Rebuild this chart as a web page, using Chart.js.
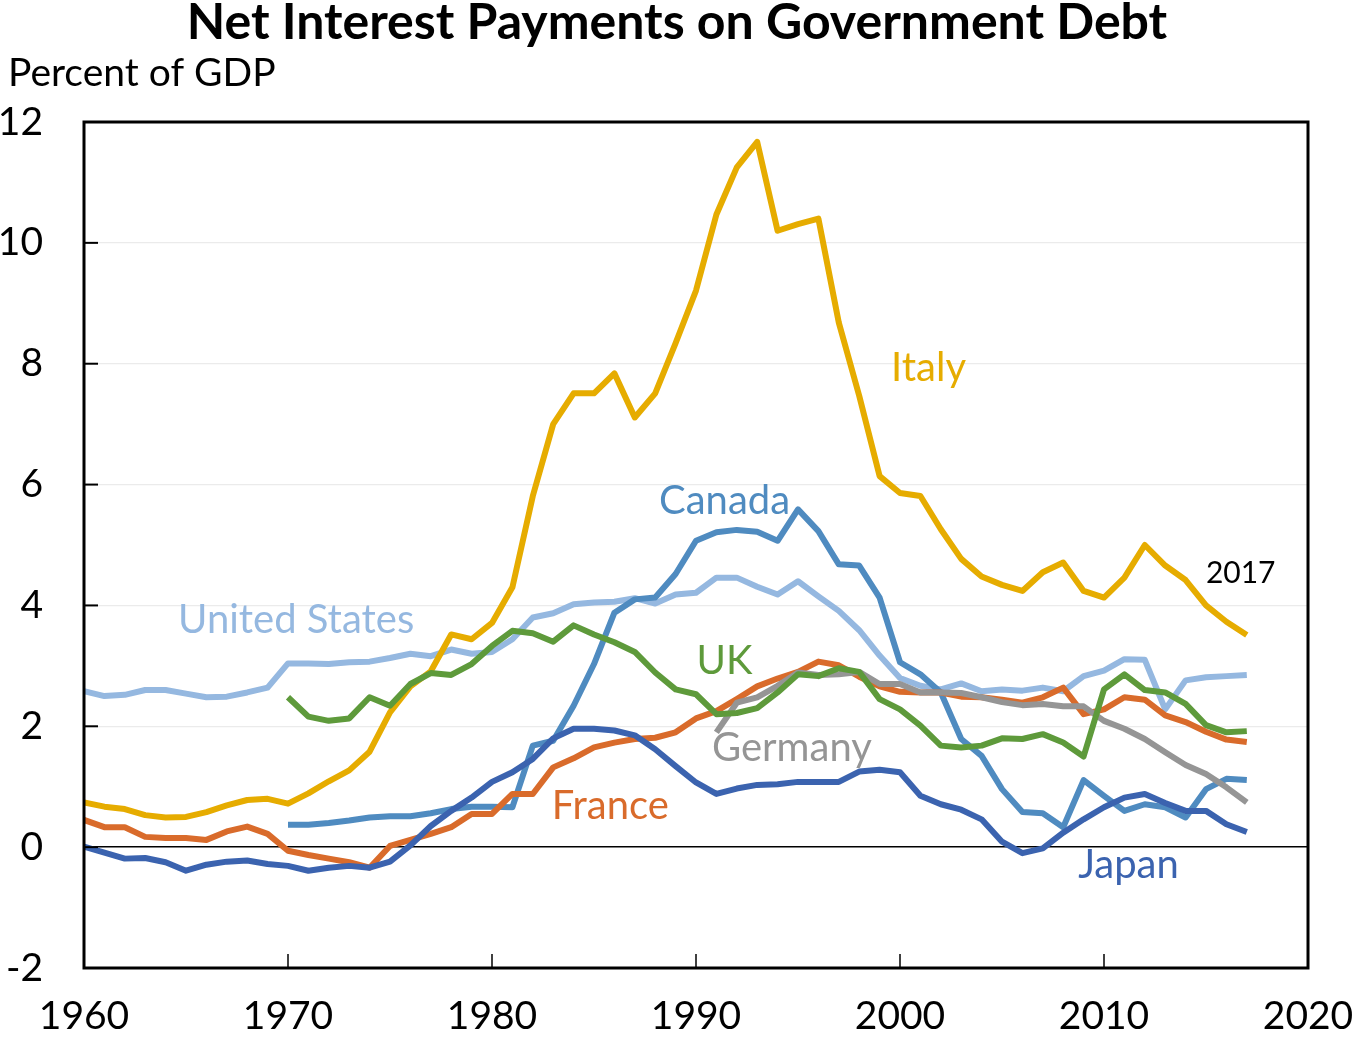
<!DOCTYPE html>
<html>
<head>
<meta charset="utf-8">
<title>Net Interest Payments on Government Debt</title>
<script src="https://cdn.jsdelivr.net/npm/chart.js@4.4.0/dist/chart.umd.min.js"></script>
<style>
  html, body { margin: 0; padding: 0; background: #fff; }
  #wrap { width: 1353px; height: 1037px; position: relative; }
</style>
</head>
<body>
<div id="wrap"><canvas id="debtChart"></canvas></div>
<script>
// Net interest payments, percent of GDP, 1960-2017
const years = [
  1960, 1961, 1962, 1963, 1964, 1965, 1966, 1967, 1968, 1969,
  1970, 1971, 1972, 1973, 1974, 1975, 1976, 1977, 1978, 1979,
  1980, 1981, 1982, 1983, 1984, 1985, 1986, 1987, 1988, 1989,
  1990, 1991, 1992, 1993, 1994, 1995, 1996, 1997, 1998, 1999,
  2000, 2001, 2002, 2003, 2004, 2005, 2006, 2007, 2008, 2009,
  2010, 2011, 2012, 2013, 2014, 2015, 2016, 2017
];

const italy = [
  0.74, 0.67, 0.63, 0.53, 0.49, 0.50, 0.58, 0.69, 0.78, 0.80,
  0.72, 0.89, 1.09, 1.27, 1.58, 2.23, 2.66, 2.91, 3.52, 3.44,
  3.71, 4.30, 5.81, 7.00, 7.51, 7.51, 7.84, 7.11, 7.51, 8.34,
  9.21, 10.47, 11.25, 11.67, 10.20, 10.31, 10.40, 8.68, 7.47, 6.14,
  5.86, 5.81, 5.26, 4.77, 4.48, 4.34, 4.24, 4.55, 4.71, 4.24,
  4.13, 4.46, 5.00, 4.66, 4.42, 4.00, 3.73, 3.51
];

const unitedStates = [
  2.58, 2.50, 2.52, 2.60, 2.60, 2.54, 2.48, 2.49, 2.56, 2.64,
  3.04, 3.04, 3.03, 3.06, 3.07, 3.13, 3.20, 3.16, 3.27, 3.20,
  3.23, 3.44, 3.80, 3.87, 4.02, 4.05, 4.06, 4.12, 4.03, 4.18,
  4.21, 4.46, 4.46, 4.31, 4.18, 4.40, 4.15, 3.91, 3.59, 3.17,
  2.80, 2.67, 2.61, 2.71, 2.58, 2.61, 2.59, 2.64, 2.58, 2.83,
  2.92, 3.11, 3.10, 2.28, 2.76, 2.81, 2.83, 2.85
];

const france = [
  0.45, 0.33, 0.33, 0.17, 0.15, 0.15, 0.12, 0.26, 0.34, 0.22,
  -0.06, -0.13, -0.19, -0.25, -0.34, 0.02, 0.12, 0.22, 0.33, 0.55,
  0.55, 0.88, 0.88, 1.32, 1.47, 1.65, 1.73, 1.79, 1.81, 1.90,
  2.13, 2.25, 2.45, 2.66, 2.79, 2.90, 3.07, 3.01, 2.82, 2.66,
  2.57, 2.56, 2.56, 2.49, 2.48, 2.44, 2.39, 2.48, 2.64, 2.20,
  2.28, 2.48, 2.44, 2.18, 2.07, 1.91, 1.78, 1.74
];

const japan = [
  0.01, -0.09, -0.19, -0.18, -0.25, -0.39, -0.29, -0.24, -0.22, -0.28,
  -0.31, -0.39, -0.34, -0.31, -0.34, -0.24, 0.03, 0.35, 0.60, 0.82,
  1.08, 1.24, 1.46, 1.80, 1.96, 1.96, 1.93, 1.85, 1.62, 1.34,
  1.07, 0.88, 0.97, 1.03, 1.04, 1.08, 1.08, 1.08, 1.25, 1.28,
  1.24, 0.85, 0.71, 0.62, 0.46, 0.09, -0.10, -0.02, 0.24, 0.46,
  0.66, 0.82, 0.88, 0.73, 0.60, 0.60, 0.38, 0.25
];

const canada = [
  null, null, null, null, null, null, null, null, null, null,
  0.37, 0.37, 0.40, 0.44, 0.49, 0.51, 0.51, 0.56, 0.63, 0.67,
  0.67, 0.66, 1.68, 1.76, 2.34, 3.03, 3.88, 4.10, 4.13, 4.52,
  5.07, 5.21, 5.25, 5.22, 5.07, 5.59, 5.23, 4.68, 4.66, 4.13,
  3.06, 2.86, 2.56, 1.79, 1.51, 0.96, 0.58, 0.56, 0.33, 1.11,
  0.85, 0.60, 0.71, 0.66, 0.49, 0.96, 1.13, 1.11
];

const uk = [
  null, null, null, null, null, null, null, null, null, null,
  2.48, 2.16, 2.09, 2.13, 2.48, 2.34, 2.70, 2.88, 2.85, 3.03,
  3.33, 3.58, 3.54, 3.40, 3.67, 3.52, 3.39, 3.23, 2.89, 2.61,
  2.53, 2.20, 2.22, 2.30, 2.56, 2.86, 2.83, 2.96, 2.90, 2.45,
  2.28, 2.01, 1.68, 1.65, 1.68, 1.80, 1.79, 1.87, 1.73, 1.50,
  2.61, 2.86, 2.60, 2.56, 2.37, 2.02, 1.90, 1.92
];

const germany = [
  null, null, null, null, null, null, null, null, null, null,
  null, null, null, null, null, null, null, null, null, null,
  null, null, null, null, null, null, null, null, null, null,
  null, 1.90, 2.39, 2.48, 2.67, 2.89, 2.85, 2.86, 2.90, 2.70,
  2.70, 2.56, 2.56, 2.55, 2.48, 2.40, 2.35, 2.37, 2.33, 2.33,
  2.09, 1.96, 1.79, 1.57, 1.36, 1.21, 0.99, 0.74
];

const yTicks = [-2, 0, 2, 4, 6, 8, 10, 12];
const xTicks = [1960, 1970, 1980, 1990, 2000, 2010, 2020];

const FONT = 'Lato, "Open Sans", sans-serif';

// first entry is painted last, so it sits on top
const series = [
  { name: 'Japan',         values: japan,        color: '#3B63AF', at: [2011.2, -0.30] },
  { name: 'UK',            values: uk,           color: '#5E9A3B', at: [1991.4, 3.08] },
  { name: 'Germany',       values: germany,      color: '#959595', at: [1994.7, 1.64] },
  { name: 'France',        values: france,       color: '#D96B2B', at: [1985.8, 0.68] },
  { name: 'Italy',         values: italy,        color: '#E6AC00', at: [2001.4, 7.93] },
  { name: 'Canada',        values: canada,       color: '#4F8BC0', at: [1991.4, 5.73] },
  { name: 'United States', values: unitedStates, color: '#95B8E0', at: [1970.4, 3.76] }
];

const toPoints = vals => years
  .map((yr, i) => ({ x: yr, y: vals[i] }))
  .filter(p => p.y !== null);

// frame, inward tick marks, titles and series names
const decorations = {
  id: 'decorations',
  afterDraw(chart) {
    const { ctx, chartArea: a, scales } = chart;
    ctx.save();

    ctx.strokeStyle = '#000';
    ctx.lineWidth = 3;
    ctx.strokeRect(a.left, a.top, a.right - a.left, a.bottom - a.top);

    ctx.lineWidth = 2;
    yTicks.forEach(v => {
      const py = scales.y.getPixelForValue(v);
      ctx.beginPath();
      ctx.moveTo(a.left, py);
      ctx.lineTo(a.left + 14, py);
      ctx.stroke();
    });
    ctx.lineWidth = 1.5;
    xTicks.forEach(v => {
      const px = scales.x.getPixelForValue(v);
      ctx.beginPath();
      ctx.moveTo(px, a.bottom);
      ctx.lineTo(px, a.bottom - 14);
      ctx.stroke();
    });

    ctx.fillStyle = '#000';
    ctx.textBaseline = 'middle';
    ctx.textAlign = 'center';
    ctx.font = 'bold 50px ' + FONT;
    ctx.fillText('Net Interest Payments on Government Debt', 677, 23);
    ctx.textAlign = 'left';
    ctx.font = '39px ' + FONT;
    ctx.fillText('Percent of GDP', 8, 73);

    ctx.textAlign = 'center';
    ctx.font = '40px ' + FONT;
    series.forEach(s => {
      ctx.fillStyle = s.color;
      ctx.fillText(s.name, scales.x.getPixelForValue(s.at[0]), scales.y.getPixelForValue(s.at[1]));
    });
    ctx.fillStyle = '#000';
    ctx.font = '30px ' + FONT;
    ctx.fillText('2017', scales.x.getPixelForValue(2016.7), scales.y.getPixelForValue(4.53));

    ctx.restore();
  }
};

new Chart(document.getElementById('debtChart'), {
  type: 'line',
  data: {
    datasets: series.map(s => ({
      label: s.name,
      data: toPoints(s.values),
      borderColor: s.color,
      backgroundColor: s.color,
      borderWidth: 6,
      borderJoinStyle: 'round',
      pointRadius: 0,
      tension: 0,
      fill: false
    }))
  },
  options: {
    responsive: true,
    maintainAspectRatio: false,
    animation: false,
    layout: { padding: { top: 122, right: 45, left: 0, bottom: 0 } },
    plugins: {
      legend: { display: false },
      title: { display: false },
      tooltip: { enabled: false }
    },
    scales: {
      x: {
        type: 'linear',
        min: 1960,
        max: 2020,
        afterFit(scale) {
          scale.height = 69;
          scale.paddingLeft = 0;
          scale.paddingRight = 0;
        },
        afterBuildTicks(scale) { scale.ticks = xTicks.map(v => ({ value: v })); },
        grid: { display: false },
        border: { display: false },
        ticks: {
          color: '#000',
          padding: 17,
          maxRotation: 0,
          font: { family: FONT, size: 39 },
          callback: v => String(v)
        }
      },
      y: {
        min: -2,
        max: 12,
        afterFit(scale) {
          scale.width = 84;
          scale.paddingTop = 0;
          scale.paddingBottom = 0;
        },
        afterBuildTicks(scale) { scale.ticks = yTicks.map(v => ({ value: v })); },
        border: { display: false },
        grid: {
          drawTicks: false,
          color: c => c.tick.value === 0 ? '#000' : '#ebebeb',
          lineWidth: c => c.tick.value === 0 ? 1.6 : 1.3
        },
        ticks: {
          color: '#000',
          padding: 41,
          font: { family: FONT, size: 39 }
        }
      }
    }
  },
  plugins: [decorations]
});
</script>
</body>
</html>
